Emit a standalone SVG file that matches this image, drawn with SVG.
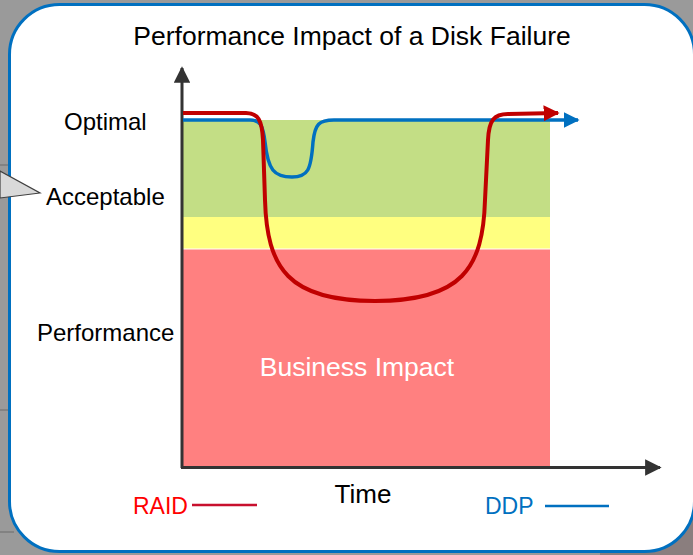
<svg xmlns="http://www.w3.org/2000/svg" width="693" height="555" viewBox="0 0 693 555">
  <style>
    .lbl { font-family: "Liberation Sans", Arial, sans-serif; font-size: 24px; fill: #000; }
    .title { font-family: "Liberation Sans", Arial, sans-serif; font-size: 26.5px; fill: #000; }
    .axis { stroke: #333; stroke-width: 3; fill: none; }
  </style>
  <defs>
    <marker id="axArrow" viewBox="0 0 10 10" refX="9" refY="5" markerWidth="5.5" markerHeight="5.5" markerUnits="strokeWidth" orient="auto">
      <path d="M0,0 L10,5 L0,10 Z" fill="#333"/>
    </marker>
    <marker id="redArrow" viewBox="0 0 10 10" refX="9" refY="5" markerWidth="4" markerHeight="4" markerUnits="strokeWidth" orient="auto">
      <path d="M0,0 L10,5 L0,10 Z" fill="#c00000"/>
    </marker>
    <marker id="blueArrow" viewBox="0 0 10 10" refX="9" refY="5" markerWidth="4.5" markerHeight="4.5" markerUnits="strokeWidth" orient="auto">
      <path d="M0,0 L10,5 L0,10 Z" fill="#0070c0"/>
    </marker>
  </defs>

  <!-- background outside the panel -->
  <rect x="0" y="0" width="693" height="555" fill="#9a9a9a"/>
  <rect x="600" y="480" width="93" height="75" fill="#8a7e7e"/>
  <g stroke="#6a6a6a" stroke-width="1">
    <line x1="0" y1="165" x2="10" y2="165"/>
    <line x1="0" y1="410" x2="10" y2="410"/>
    <line x1="0" y1="532" x2="14" y2="532"/>
  </g>

  <!-- panel -->
  <g id="panel">
    <rect x="9.5" y="4.5" width="685" height="547" rx="50" ry="50" fill="#ffffff" stroke="#0070c0" stroke-width="3"/>
  </g>

  <!-- callout pointer -->
  <g id="callout">
    <polygon points="0,171 40,193 0,198" fill="#d9d9d9" stroke="#404040" stroke-width="1.2"/>
  </g>

  <g id="title">
    <text class="title" x="352" y="45" text-anchor="middle">Performance Impact of a Disk Failure</text>
  </g>

  <!-- bands -->
  <g id="bands">
    <rect id="band-acceptable" x="183" y="120" width="367" height="97" fill="#c3de85"/>
    <rect id="band-warning" x="183" y="217" width="367" height="31.5" fill="#ffff80"/>
    <rect id="band-impact" x="183" y="249.5" width="367" height="218" fill="#ff8080"/>
  </g>

  <g id="axes">
    <line class="axis" x1="182" y1="468" x2="182" y2="68" marker-end="url(#axArrow)"/>
    <line class="axis" x1="181" y1="467.5" x2="660" y2="467.5" marker-end="url(#axArrow)"/>
  </g>

  <g id="labels">
    <text class="lbl" x="64" y="130">Optimal</text>
    <text class="lbl" x="46" y="205">Acceptable</text>
    <text class="lbl" x="37" y="341">Performance</text>
    <text class="lbl" x="357" y="376" text-anchor="middle" style="fill:#ffffff;font-size:26.5px">Business Impact</text>
    <text class="lbl" x="363" y="503" text-anchor="middle" style="font-size:26px">Time</text>
  </g>

  <g id="connectors">
    <path id="ddp-curve" d="M183,120 L250,120 C260,120 263,125 265,142 C268,170 274,177 292,177 C308,177 311,170 313,142 C315,124 319,120 334,120 L578,120" fill="none" stroke="#0070c0" stroke-width="3.5" marker-end="url(#blueArrow)"/>
    <path id="raid-curve" d="M183,113 L246,113 C258,113 262,120 263,140 L265,200 C267,268 288,301 375,301 C462,301 483,268 485,200 L488,140 C489,120 494,114 508,114 L558,113" fill="none" stroke="#c00000" stroke-width="4" marker-end="url(#redArrow)"/>
  </g>

  <g id="legend">
    <text x="133" y="514" font-family="Liberation Sans, Arial, sans-serif" font-size="23" fill="#ff0000">RAID</text>
    <line x1="192" y1="505" x2="257" y2="505" stroke="#c8102e" stroke-width="2.5"/>
    <text x="485" y="514" font-family="Liberation Sans, Arial, sans-serif" font-size="23" fill="#0070c0">DDP</text>
    <line x1="545" y1="506" x2="609" y2="506" stroke="#0070c0" stroke-width="2.5"/>
  </g>
</svg>
